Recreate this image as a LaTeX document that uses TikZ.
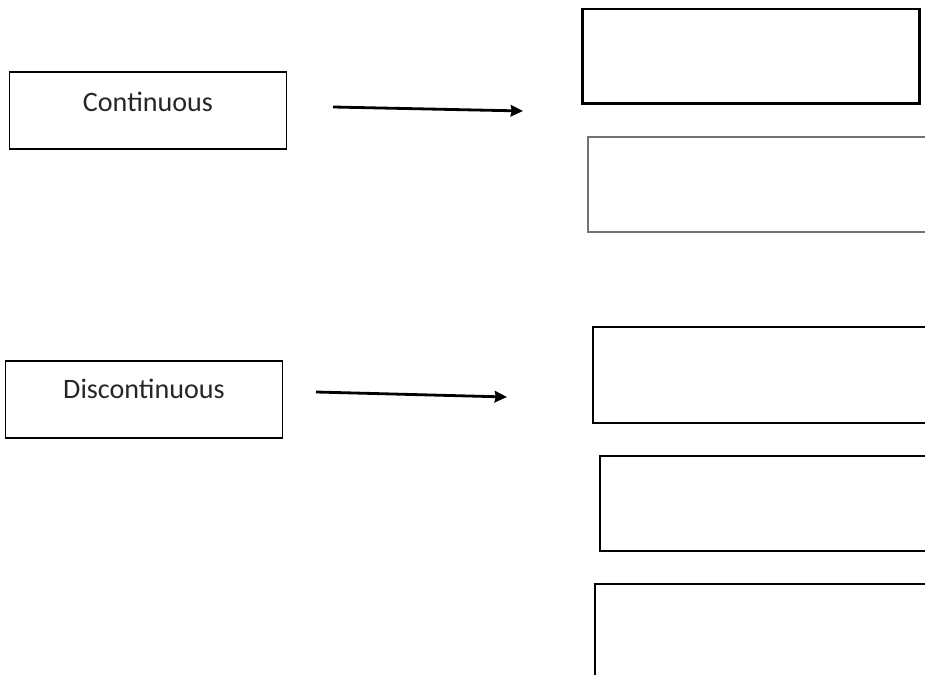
\documentclass[tikz,border=0pt]{standalone}
\usepackage{fontspec}
\setmainfont{Carlito}
\usepackage{tikz}
\usetikzlibrary{shapes.geometric, arrows, arrows.meta}
\tikzstyle{arrow} = [line width=1.6pt,-{Stealth[length=7pt, width=6.5pt, inset=0.6pt]}]
\tikzstyle{leftbox} = [draw, line width=1.1pt, minimum width=5.54cm, minimum height=1.54cm]
\tikzstyle{rightbox} = [draw, line width=1.4pt, minimum height=1.9cm]
\tikzstyle{boxtext} = [text=black!85, font=\fontsize{16}{19}\selectfont]

\begin{document}
\begin{tikzpicture}[x=0.02cm, y=-0.02cm]
                            \useasboundingbox (0, 0) rectangle (925, 675);
                            \clip (0, 0) rectangle (925, 675);
                            \node[leftbox] (cont) at (148, 110.5) {};
                            \node[boxtext] (conttext) at (148, 102) {Continuous};
                            \node[leftbox] (disc) at (144, 399.5) {};
                            \node[boxtext] (disctext) at (144, 389) {Discontinuous};
                            \node[rightbox, line width=1.7pt, minimum width=6.76cm] (contA) at (751, 56.5) {};
                            \node[rightbox, line width=1pt, draw=black!55, minimum width=7.04cm] (contB) at (764, 184.5) {};
                            \node[rightbox, minimum width=6.94cm, minimum height=1.92cm] (discA) at (766.5, 375) {};
                            \node[rightbox, minimum width=6.8cm] (discB) at (770, 503.5) {};
                            \node[rightbox, minimum width=6.9cm, minimum height=1.92cm] (discC) at (767.5, 632) {};
                            \coordinate (contfrom) at (333, 107);
                            \coordinate (contto) at (523, 111);
                            \coordinate (discfrom) at (316, 392);
                            \coordinate (discto) at (507, 397);
                            \draw [arrow] (contfrom) -- (contto);
                            \draw [arrow] (discfrom) -- (discto);
                        \end{tikzpicture}
\end{document}
